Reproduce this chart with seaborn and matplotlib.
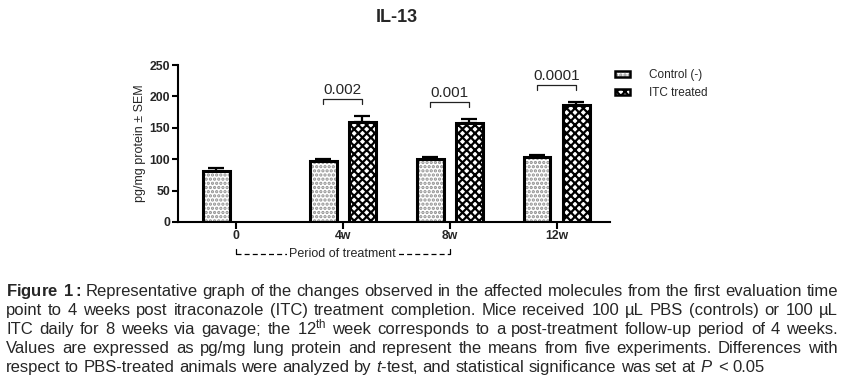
import numpy as np
import pandas as pd
import seaborn as sns
import matplotlib.pyplot as plt
from matplotlib.patches import Rectangle, Patch
from matplotlib.legend_handler import HandlerTuple
from matplotlib.transforms import blended_transform_factory

# data
times = ['0', '4w', '8w', '12w']
groups = ['Control (-)', 'ITC treated']
control_mean = [82, 97, 100, 103]
control_sem = [4, 4, 4, 3]
itc_mean = [np.nan, 160, 157, 186]
itc_sem = [np.nan, 9, 7, 5]
pvals = ['0.002', '0.001', '0.0001']
pval_times = ['4w', '8w', '12w']

caption = [
    r'$\mathbf{Figure}$ $\mathbf{1:}$ Representative graph of the changes observed in the affected molecules from the first evaluation time',
    r'point to 4 weeks post itraconazole (ITC) treatment completion. Mice received 100 µL PBS (controls) or 100 µL',
    r'ITC daily for 8 weeks via gavage; the 12$^{\mathrm{th}}$ week corresponds to a post-treatment follow-up period of 4 weeks.',
    r'Values are expressed as pg/mg lung protein and represent the means from five experiments. Differences with',
    r'respect to PBS-treated animals were analyzed by $\mathit{t}$-test, and statistical significance was set at $\mathit{P}$ < 0.05',
]

sns.set_style('ticks')
plt.rcParams['font.family'] = ['Liberation Sans', 'DejaVu Sans']
plt.rcParams['mathtext.fontset'] = 'custom'
plt.rcParams['mathtext.rm'] = 'Liberation Sans'
plt.rcParams['mathtext.it'] = 'Liberation Sans:italic'
plt.rcParams['mathtext.bf'] = 'Liberation Sans:bold'
plt.rcParams['hatch.linewidth'] = 1.6

df = pd.DataFrame({
    'time': times * 2,
    'group': [groups[0]] * 4 + [groups[1]] * 4,
    'value': control_mean + itc_mean,
    'sem': control_sem + itc_sem,
}).dropna()

fig = plt.figure(figsize=(8.46, 3.83), dpi=100)
ax = fig.add_axes([178 / 846, 1 - 222 / 383, 432 / 846, 157 / 383])

sns.barplot(data=df, x='time', y='value', hue='group', order=times,
            hue_order=groups, width=0.73, gap=0.31, errorbar=None,
            legend=False, ax=ax)

hatch_style = {groups[0]: ('....', '#8f8f8f'), groups[1]: ('xxxx', 'black')}
legend_handles = []
for cont, g in zip(ax.containers, groups):
    sub = df[df['group'] == g]
    hatch, hcol = hatch_style[g]
    bars = sorted(cont.patches, key=lambda p: p.get_x())
    xs, ys = [], []
    for p in bars:
        p.set_facecolor('white')
        p.set_edgecolor(hcol)
        p.set_linewidth(0)
        p.set_hatch(hatch)
        ax.add_patch(Rectangle((p.get_x(), p.get_y()), p.get_width(), p.get_height(),
                               fill=False, ec='black', lw=2.2, zorder=3))
        xs.append(p.get_x() + p.get_width() / 2)
        ys.append(p.get_height())
    errs = sub['sem'].to_numpy()
    ax.errorbar(xs, ys, yerr=[np.zeros_like(errs), errs], fmt='none',
                ecolor='black', elinewidth=1.6, capsize=6, capthick=1.6, zorder=2)
    legend_handles.append((Patch(fc='white', ec=hcol, lw=0, hatch=hatch),
                           Patch(fill=False, ec='black', lw=1.8)))

# significance brackets
ctrl_bars = sorted(ax.containers[0].patches, key=lambda p: p.get_x())
itc_bars = sorted(ax.containers[1].patches, key=lambda p: p.get_x())
ctrl_by_time = dict(zip(times, ctrl_bars))
itc_by_time = dict(zip(pval_times, itc_bars))
for t, pv in zip(pval_times, pvals):
    c, i = ctrl_by_time[t], itc_by_time[t]
    top = max(df.loc[df['time'] == t, 'value'] + df.loc[df['time'] == t, 'sem'])
    level = top + 27
    x0 = c.get_x() + c.get_width() / 2
    x1 = i.get_x() + i.get_width() / 2
    ax.plot([x0, x0, x1, x1], [level - 8, level, level, level - 8],
            color='#222222', lw=0.9, clip_on=False)
    ax.text((x0 + x1) / 2, level + 3, pv, ha='center', va='bottom', fontsize=11)

ax.set_xlim(-0.54, 3.5)
ax.set_ylim(0, 250)
ax.set_yticks(range(0, 251, 50))
ax.set_xlabel('')
ax.set_ylabel('pg/mg protein ± SEM', fontsize=9, labelpad=3)
ax.tick_params(axis='both', labelsize=8.8, width=1.5, length=4, color='black')
ax.tick_params(axis='x', length=5, pad=0.5)
ax.tick_params(axis='y', pad=1.5)
for lab in ax.get_xticklabels() + ax.get_yticklabels():
    lab.set_fontweight('bold')
sns.despine(ax=ax)
for s in ['left', 'bottom']:
    ax.spines[s].set_linewidth(1.5)
    ax.spines[s].set_color('black')

# period of treatment marker under the axis
tr = blended_transform_factory(ax.transData, fig.transFigure)
yb = 1 - 254 / 383
ax.plot([0, 2], [yb, yb], transform=tr, color='black', lw=0.9,
        ls=(0, (4, 2.5)), clip_on=False)
ax.plot([0, 0], [yb, yb + 5 / 383], transform=tr, color='black', lw=0.9, clip_on=False)
ax.plot([2, 2], [yb, yb + 5 / 383], transform=tr, color='black', lw=0.9, clip_on=False)
ax.text(1, yb, 'Period of treatment', transform=tr, ha='center', va='center',
        fontsize=9, bbox=dict(fc='white', ec='none', pad=2))

fig.legend(handles=legend_handles, labels=groups,
           handler_map={tuple: HandlerTuple(ndivide=1)},
           loc='upper left', bbox_to_anchor=(615 / 846, 1 - 69 / 383),
           frameon=False, fontsize=8.5, handlelength=1.3, handleheight=0.45,
           handletextpad=1.6, labelspacing=0.5, borderpad=0, borderaxespad=0)

fig.text(397 / 846, 1 - 17 / 383, 'IL-13', ha='center', va='center',
         fontsize=13, fontweight='bold')

# justified caption
renderer = fig.canvas.get_renderer()
x_left, x_right = 6 / 846, 838 / 846
for k, line in enumerate(caption):
    y = 1 - (296 + 19.1 * k) / 383
    words = line.split(' ')
    items = [fig.text(0, y, w, fontsize=12, va='baseline', ha='left') for w in words]
    widths = [t.get_window_extent(renderer).width / 846 for t in items]
    if k < len(caption) - 1:
        space = (x_right - x_left - sum(widths)) / (len(words) - 1)
    else:
        space = 4.6 / 846
    x = x_left
    for t, w in zip(items, widths):
        t.set_x(x)
        x += w + space

fig.savefig('out.png', dpi=100)
